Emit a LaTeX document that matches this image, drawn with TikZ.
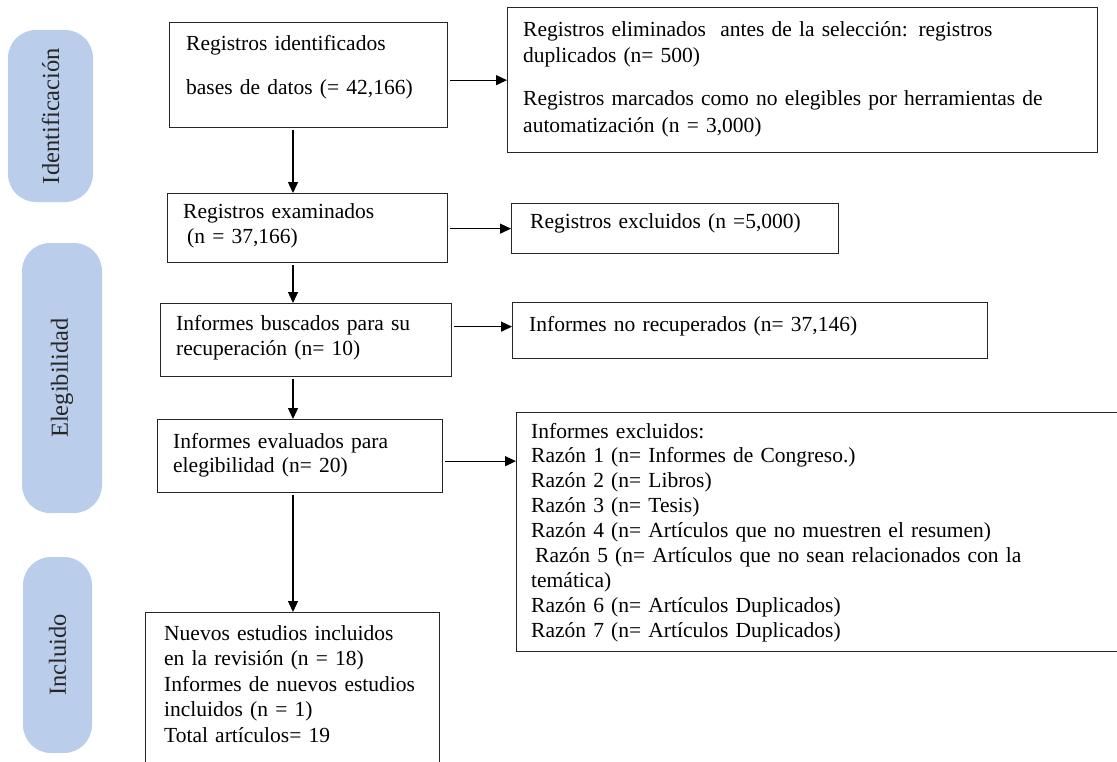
\documentclass[tikz,border=0pt]{standalone}
\usepackage{fontspec}
\setmainfont{Liberation Serif}
\usetikzlibrary{arrows.meta}

\definecolor{pillblue}{RGB}{186,206,235}
\tikzset{
    box/.style={draw=black!85, line width=1.3pt, anchor=north west, inner sep=0pt},
    txt/.style={anchor=base west, align=left, inner sep=0pt, font=\fontsize{21.5}{25}\selectfont},
    pill/.style={fill=pillblue, rounded corners=28pt, inner sep=0pt, rotate=90, text=black!85, font=\fontsize{24.5}{25}\selectfont},
    arr/.style={-{Triangle[length=11pt,width=10pt]}, line width=1.3pt, shorten <=2pt}
}

\begin{document}
\begin{tikzpicture}[x=1pt, y=-1pt]
            \useasboundingbox (0,0) rectangle (1117,761);
            \clip (0,0) rectangle (1117,761);

            %phases
            \node[pill, minimum width=172pt, minimum height=85pt] (pid) at (50.5,116) {Identificación};
            \node[pill, minimum width=270pt, minimum height=80pt] (pel) at (62,378) {Elegibilidad};
            \node[pill, minimum width=196pt, minimum height=69pt] (pin) at (57.5,655) {Incluido};

            %boxes
            \node[box, minimum width=278pt, minimum height=105pt] (regid) at (169,22) {};
            \node[box, minimum width=590pt, minimum height=145pt] (regelim) at (507,7) {};
            \node[box, minimum width=280pt, minimum height=69pt] (regexam) at (167,193) {};
            \node[box, minimum width=327pt, minimum height=50pt] (regexcl) at (511,203) {};
            \node[box, minimum width=291pt, minimum height=73pt] (infbusc) at (160,303) {};
            \node[box, minimum width=475pt, minimum height=56pt] (infnorec) at (512,302) {};
            \node[box, minimum width=285pt, minimum height=73pt] (infeval) at (157,419) {};
            \node[box, minimum width=620pt, minimum height=239pt] (infexcl) at (516,412) {};
            \node[box, minimum width=294pt, minimum height=170pt] (incl) at (145,612) {};

            %texts
            \node[txt, text width=260pt] (tregid) at (186,50) {Registros identificados\\[19pt]bases de datos (= 42,166)};
            \node[txt, text width=570pt] (tregelim) at (523,36) {Registros eliminados\ \ antes de la selección: registros\\[1pt]duplicados (n= 500)\\[18pt]Registros marcados como no elegibles por herramientas de\\[2pt]automatización (n = 3,000)};
            \node[txt, text width=260pt] (tregexam) at (183,218) {Registros examinados\\\hspace*{4pt}(n = 37,166)};
            \node[txt, text width=300pt] (tregexcl) at (530,228) {Registros excluidos (n =5,000)};
            \node[txt, text width=270pt] (tinfbusc) at (176,330) {Informes buscados para su\\recuperación (n= 10)};
            \node[txt, text width=450pt] (tinfnorec) at (529,331) {Informes no recuperados (n= 37,146)};
            \node[txt, text width=260pt] (tinfeval) at (173,448) {Informes evaluados para\\[-1pt]elegibilidad (n= 20)};
            \node[txt, text width=580pt, font=\fontsize{21.5}{24.9}\selectfont] (tinfexcl) at (531,438) {Informes excluidos:\\
                Razón 1 (n= Informes de Congreso.)\\
                Razón 2 (n= Libros)\\
                Razón 3 (n= Tesis)\\
                Razón 4 (n= Artículos que no muestren el resumen)\\
                \hspace*{4pt}Razón 5 (n= Artículos que no sean relacionados con la\\
                temática)\\
                Razón 6 (n= Artículos Duplicados)\\
                Razón 7 (n= Artículos Duplicados)};
            \node[txt, text width=270pt, font=\fontsize{21.5}{25.5}\selectfont] (tincl) at (164,640) {Nuevos estudios incluidos\\
                en la revisión (n = 18)\\
                Informes de nuevos estudios\\
                incluidos (n = 1)\\
                Total artículos= 19};

            %edges
            \coordinate (spine) at (293,0);
            \draw[arr] (regid.east |- regelim.west) -- (regelim.west);
            \draw[arr] (regid.south -| spine) -- (regexam.north -| spine);
            \draw[arr] (regexam.east |- regexcl.west) -- (regexcl.west);
            \draw[arr] (regexam.south -| spine) -- (infbusc.north -| spine);
            \draw[arr] ([yshift=4pt]infbusc.east |- infnorec.west) -- ([yshift=4pt]infnorec.west);
            \draw[arr] (infbusc.south -| spine) -- (infeval.north -| spine);
            \draw[arr] ([yshift=-5pt]infeval.east) -- ([yshift=-5pt]infeval.east -| infexcl.west);
            \draw[arr] (infeval.south -| spine) -- (incl.north -| spine);
        \end{tikzpicture}
\end{document}
